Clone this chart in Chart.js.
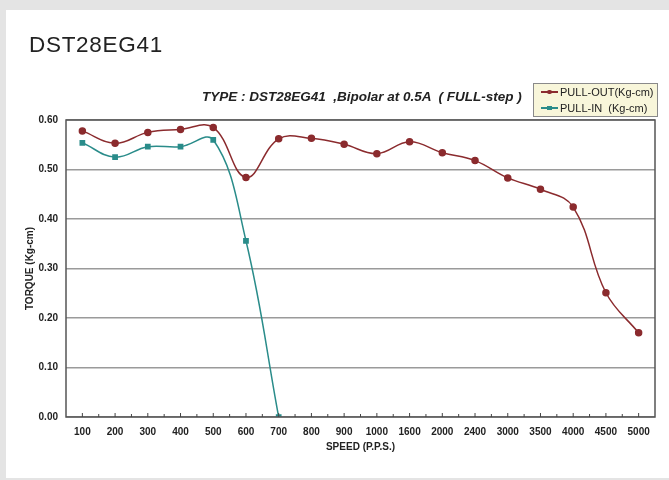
<!DOCTYPE html>
<html>
<head>
<meta charset="utf-8">
<script src="https://cdn.jsdelivr.net/npm/chart.js@4.4.0/dist/chart.umd.min.js"></script>
<style>
  html, body { margin: 0; padding: 0; }
  body { width: 669px; height: 480px; background: #e4e4e4; position: relative; overflow: hidden; font-family: "Liberation Sans", Arial, sans-serif; }
  .panel { position: absolute; left: 6px; top: 10px; width: 663px; height: 468px; background: #fff; }
  .wrap { position: absolute; left: 0; top: 0; width: 669px; height: 480px; }
  .title { position: absolute; left: 29px; top: 32px; font-size: 22.5px; color: #222; letter-spacing: 0.7px; }
  .subtitle { position: absolute; left: 202px; top: 89px; font-size: 13.5px; font-weight: bold; font-style: italic; color: #222; }
  .legend { position: absolute; left: 533px; top: 83px; width: 123px; height: 32px; background: #f8f6da; border: 1px solid #8a8a8a; font-size: 11px; color: #222; }
  .legend .row { position: absolute; left: 7px; height: 14px; line-height: 14px; white-space: nowrap; }
  .legend .ico { display: inline-block; position: relative; width: 17px; height: 14px; vertical-align: top; margin-right: 2px; }
  .legend .ico .ln { position: absolute; left: 0; top: 6px; width: 17px; height: 1.5px; }
  .legend .ico .mk { position: absolute; left: 6px; top: 4.5px; width: 4.5px; height: 4.5px; }
</style>
</head>
<body>
<div class="panel"></div>
<div class="wrap"><canvas id="chart" width="669" height="480"></canvas></div>
<div class="title">DST28EG41</div>
<div class="subtitle">TYPE : DST28EG41 &nbsp;,Bipolar at 0.5A &nbsp;( FULL-step )</div>
<div class="legend">
  <div class="row" style="top:1px"><span class="ico"><span class="ln" style="background:#8b2b2e"></span><span class="mk" style="background:#8b2b2e;border-radius:50%"></span></span>PULL-OUT(Kg-cm)</div>
  <div class="row" style="top:17px"><span class="ico"><span class="ln" style="background:#2a8c8a"></span><span class="mk" style="background:#2a8c8a"></span></span>PULL-IN &nbsp;(Kg-cm)</div>
</div>
<script>
const speeds = ['100', '200', '300', '400', '500', '600', '700', '800', '900', '1000', '1600', '2000', '2400', '3000', '3500', '4000', '4500', '5000']
const pullOut = [0.578, 0.553, 0.575, 0.581, 0.585, 0.484, 0.562, 0.563, 0.551, 0.532, 0.556, 0.534, 0.518, 0.483, 0.460, 0.424, 0.251, 0.170]
const pullIn = [0.554, 0.525, 0.546, 0.546, 0.560, 0.356, 0.0]
const yTicks = [0, 0.1, 0.2, 0.3, 0.4, 0.5, 0.6]

const outColor = '#8b2b2e'
const inColor = '#2a8c8a'
const axisFont = { family: '"Liberation Sans", Arial, sans-serif', size: 10, weight: 'bold' }

// frame around the plot + small tick marks along the bottom axis
const frame = {
  id: 'frame',
  afterDatasetsDraw(chart) {
    const { ctx, chartArea: a, scales: { x } } = chart
    ctx.save()
    ctx.strokeStyle = '#555'
    ctx.lineWidth = 1.5
    ctx.strokeRect(a.left, a.top, a.right - a.left, a.bottom - a.top)
    ctx.lineWidth = 1
    ctx.strokeStyle = '#444'
    for (let i = 0; i < speeds.length; i++) {
      const px = x.getPixelForValue(i)
      ctx.beginPath(); ctx.moveTo(px, a.bottom); ctx.lineTo(px, a.bottom - 4); ctx.stroke()
      if (i < speeds.length - 1) {
        const mid = (px + x.getPixelForValue(i + 1)) / 2
        ctx.beginPath(); ctx.moveTo(mid, a.bottom); ctx.lineTo(mid, a.bottom - 3); ctx.stroke()
      }
    }
    ctx.restore()
  }
}

new Chart(document.getElementById('chart'), {
  type: 'line',
  data: {
    labels: speeds,
    datasets: [
      {
        label: 'PULL-OUT(Kg-cm)',
        data: pullOut,
        borderColor: outColor,
        backgroundColor: outColor,
        borderWidth: 1.5,
        pointStyle: 'circle',
        pointRadius: 3,
        tension: 0.4,
      },
      {
        label: 'PULL-IN  (Kg-cm)',
        data: pullIn,
        borderColor: inColor,
        backgroundColor: inColor,
        borderWidth: 1.5,
        pointStyle: 'rect',
        pointRadius: 3,
        tension: 0.4,
      }
    ]
  },
  options: {
    responsive: false,
    animation: false,
    layout: { padding: { top: 120, right: 14, left: 13, bottom: 27 } },
    plugins: {
      legend: { display: false },
      tooltip: { enabled: false }
    },
    scales: {
      x: {
        offset: true,
        grid: { display: false },
        border: { display: false },
        afterFit: (scale) => { scale.height = 36 },
        ticks: { color: '#222', font: axisFont, padding: 1, maxRotation: 0, autoSkip: false },
        title: { display: true, text: 'SPEED (P.P.S.)', color: '#222', font: axisFont, padding: { top: 0, bottom: 0 } }
      },
      y: {
        min: 0,
        max: 0.6,
        afterFit: (scale) => { scale.width = 53 },
        afterBuildTicks: (scale) => { scale.ticks = yTicks.map(v => ({ value: v })) },
        grid: { color: '#9a9a9a', lineWidth: 1.5, drawTicks: false },
        border: { display: false },
        ticks: { color: '#222', font: axisFont, padding: 8, callback: v => v.toFixed(2) },
        title: { display: true, text: 'TORQUE (Kg-cm)', color: '#222', font: axisFont, padding: { top: 11, bottom: 0 } }
      }
    }
  },
  plugins: [frame]
})
</script>
</body>
</html>
